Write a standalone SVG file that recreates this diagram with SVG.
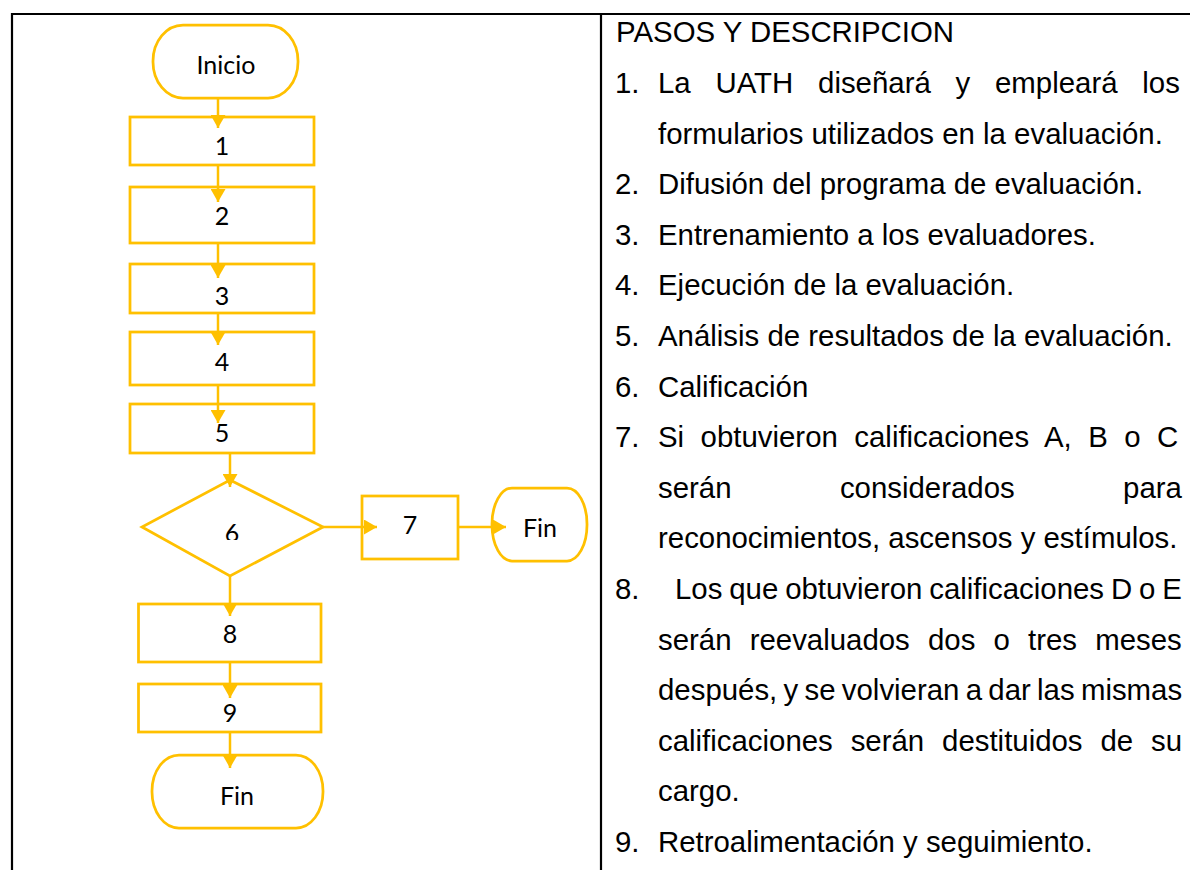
<svg xmlns="http://www.w3.org/2000/svg" width="1190" height="870" viewBox="0 0 1190 870">
<style>
.nd{fill:#fff;stroke:#FFC000;stroke-width:2.75}
.cn{fill:none;stroke:#FFC000;stroke-width:2.5;marker-end:url(#ah)}
.fl{font-family:Lato,"Open Sans","Liberation Sans",sans-serif;font-size:25px;text-anchor:middle;fill:#000}
.tx{font-family:"Liberation Sans",Arial,sans-serif;font-size:29.4px;fill:#000}
.bd{stroke:#000;stroke-width:2.2;fill:none}
</style>
<defs>
<marker id="ah" markerUnits="userSpaceOnUse" markerWidth="15" markerHeight="15" refX="13" refY="7.5" orient="auto">
<path d="M0,0 L13,7.5 L0,15 Z" fill="#FFC000"/>
</marker>
<clipPath id="clip6"><rect x="200" y="500" width="60" height="40"/></clipPath>
</defs>
<rect width="1190" height="870" fill="#fff"/>
<g id="frame">
<path class="bd" d="M12,870 V14 H1190 M601,14 V870"/>
</g>
<g id="n-inicio"><rect class="nd" x="153" y="25" width="145" height="73" rx="30" ry="36"/><text class="fl" x="226" y="74">Inicio</text></g>
<g id="n1"><rect class="nd" x="130" y="117" width="184" height="48"/><text class="fl" x="222" y="155">1</text></g>
<g id="n2"><rect class="nd" x="130" y="187" width="184" height="56"/><text class="fl" x="222" y="225">2</text></g>
<g id="n3"><rect class="nd" x="130" y="264" width="184" height="49"/><text class="fl" x="222" y="305">3</text></g>
<g id="n4"><rect class="nd" x="130" y="332" width="184" height="53"/><text class="fl" x="222" y="371">4</text></g>
<g id="n5"><rect class="nd" x="130" y="404" width="184" height="49"/><text class="fl" x="222" y="442">5</text></g>
<g id="n6"><path class="nd" d="M230,480 L323,527 L230,576 L142,527 Z"/><text class="fl" x="232" y="542" clip-path="url(#clip6)">6</text></g>
<g id="n7"><rect class="nd" x="362" y="496" width="96" height="63"/><text class="fl" x="410" y="534">7</text></g>
<g id="n-fin1"><rect class="nd" x="492" y="488" width="95" height="73" rx="20" ry="36"/><text class="fl" x="540" y="537">Fin</text></g>
<g id="n8"><rect class="nd" x="138.5" y="604" width="182.5" height="58"/><text class="fl" x="230" y="643">8</text></g>
<g id="n9"><rect class="nd" x="138.5" y="684" width="182.5" height="48"/><text class="fl" x="230" y="722">9</text></g>
<g id="n-fin2"><rect class="nd" x="152" y="755" width="171" height="73" rx="27" ry="36"/><text class="fl" x="237" y="805">Fin</text></g>
<g id="connectors">
<path class="cn" d="M218,98 V128"/>
<path class="cn" d="M218,165 V202"/>
<path class="cn" d="M218,243 V278"/>
<path class="cn" d="M218,313 V345"/>
<path class="cn" d="M218,385 V423"/>
<path class="cn" d="M230,453 V487"/>
<path class="cn" d="M323,527 H377"/>
<path class="cn" d="M458,527 H506"/>
<path class="cn" d="M230,576 V616"/>
<path class="cn" d="M230,662 V698"/>
<path class="cn" d="M230,732 V768"/>
</g>
<g id="description">
<text class="tx" x="616" y="42">PASOS Y DESCRIPCION</text>
<text class="tx" x="615" y="93">1.</text>
<text class="tx" x="658" y="93" word-spacing="16.6">La UATH diseñará y empleará los</text>
<text class="tx" x="658" y="143.6">formularios utilizados en la evaluación.</text>
<text class="tx" x="615" y="194.2">2.</text>
<text class="tx" x="658" y="194.2">Difusión del programa de evaluación.</text>
<text class="tx" x="615" y="244.8">3.</text>
<text class="tx" x="658" y="244.8">Entrenamiento a los evaluadores.</text>
<text class="tx" x="615" y="295.4">4.</text>
<text class="tx" x="658" y="295.4">Ejecución de la evaluación.</text>
<text class="tx" x="615" y="346">5.</text>
<text class="tx" x="658" y="346">Análisis de resultados de la evaluación.</text>
<text class="tx" x="615" y="396.6">6.</text>
<text class="tx" x="658" y="396.6">Calificación</text>
<text class="tx" x="615" y="447.2">7.</text>
<text class="tx" x="658" y="447.2" word-spacing="8.3">Si obtuvieron calificaciones A, B o C</text>
<text class="tx" x="658" y="497.8" word-spacing="100.2">serán considerados para</text>
<text class="tx" x="658" y="548.4">reconocimientos, ascensos y estímulos.</text>
<text class="tx" x="615" y="599">8.</text>
<text class="tx" x="675" y="599" word-spacing="-1.3">Los que obtuvieron calificaciones D o E</text>
<text class="tx" x="658" y="649.6" word-spacing="10">serán reevaluados dos o tres meses</text>
<text class="tx" x="658" y="700.2" word-spacing="-1.9">después, y se volvieran a dar las mismas</text>
<text class="tx" x="658" y="750.8" word-spacing="9.7">calificaciones serán destituidos de su</text>
<text class="tx" x="658" y="801.4">cargo.</text>
<text class="tx" x="615" y="852">9.</text>
<text class="tx" x="658" y="852">Retroalimentación y seguimiento.</text>
</g>
</svg>
